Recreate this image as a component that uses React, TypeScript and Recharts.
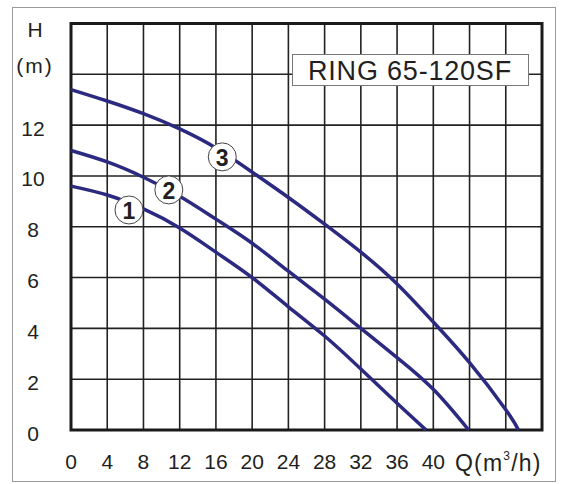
import {
  ComposedChart,
  Line,
  XAxis,
  YAxis,
  CartesianGrid,
  ReferenceArea,
  ReferenceDot,
} from 'recharts';

// Pump curves: flow Q (m³/h) against head H (m)
const flowQ1 = [0, 4, 8, 12, 16, 20, 24, 28, 32, 36, 39.2];
const head1 = [9.6, 9.25, 8.7, 7.95, 7.0, 6.0, 4.85, 3.7, 2.4, 1.05, 0];

const flowQ2 = [0, 4, 8, 12, 16, 20, 24, 28, 32, 36, 40, 43.9];
const head2 = [11.0, 10.55, 9.95, 9.2, 8.3, 7.35, 6.25, 5.15, 4.0, 2.85, 1.6, 0];

const flowQ3 = [0, 4, 8, 12, 16, 20, 24, 28, 32, 36, 40, 44, 48, 49.4];
const head3 = [13.4, 12.95, 12.45, 11.85, 11.1, 10.15, 9.15, 8.1, 7.0, 5.75, 4.25, 2.65, 0.8, 0];

// circled curve numbers, placed in data units
const markerNames = ['1', '2', '3'];
const markerQ = [6.4, 10.8, 16.7];
const markerH = [8.66, 9.45, 10.75];

const xTicks = [0, 4, 8, 12, 16, 20, 24, 28, 32, 36, 40, 44, 48, 52];
const xLabelMax = 40;
const yTicks = [0, 2, 4, 6, 8, 10, 12, 14, 16];
const yLabelMax = 12;

const title = 'RING 65-120SF';

const toPoints = (qs: number[], hs: number[]) => qs.map((q, i) => ({ q, h: hs[i] }));
const curves = [toPoints(flowQ1, head1), toPoints(flowQ2, head2), toPoints(flowQ3, head3)];

const INK = '#231f20';
const CURVE = '#2b2a80';
const FONT = '"Liberation Sans", Arial, sans-serif';

const XTick = ({ x, y, payload }: any) => {
  if (payload.value > xLabelMax) return <g />;
  return (
    <text x={x} y={y} textAnchor="middle" dominantBaseline="central" fontSize={21} fill={INK} fontFamily={FONT}>
      {payload.value}
    </text>
  );
};

const YTick = ({ x, y, payload }: any) => {
  if (payload.value > yLabelMax) return <g />;
  return (
    <text x={x} y={y} dy={3} textAnchor="middle" dominantBaseline="central" fontSize={21} fill={INK} fontFamily={FONT}>
      {payload.value}
    </text>
  );
};

const marker = (name: string) => (props: any) => (
  <g>
    <circle cx={props.cx} cy={props.cy} r={14} fill="#fff" stroke="#444" strokeWidth={1} />
    <text
      x={props.cx}
      y={props.cy}
      dy={1}
      textAnchor="middle"
      dominantBaseline="central"
      fontSize={23}
      fontWeight="bold"
      fill={INK}
      fontFamily={FONT}
    >
      {name}
    </text>
  </g>
);

export default function App() {
  return (
    <div style={{ position: 'absolute', left: 0, top: 0, width: 564, height: 484, background: '#fff' }}>
      <ComposedChart width={564} height={484} margin={{ top: 23.5, right: 22, bottom: 14, left: 21 }}>
        <CartesianGrid stroke="#222" strokeWidth={1.6} />
        <XAxis
          type="number"
          dataKey="q"
          domain={[0, 52]}
          ticks={xTicks}
          interval={0}
          height={40}
          axisLine={false}
          tickLine={false}
          tickSize={0}
          tickMargin={31}
          tick={<XTick />}
        />
        <YAxis
          type="number"
          dataKey="h"
          domain={[0, 16]}
          ticks={yTicks}
          interval={0}
          width={50}
          axisLine={false}
          tickLine={false}
          tickSize={0}
          tickMargin={38}
          tick={<YTick />}
        />
        <ReferenceArea x1={0} x2={52} y1={0} y2={16} fill="none" stroke="#1a1a1a" strokeWidth={3} />
        {curves.map((pts, i) => (
          <Line
            key={i}
            data={pts}
            dataKey="h"
            type="natural"
            stroke={CURVE}
            strokeWidth={3.5}
            dot={false}
            activeDot={false}
            isAnimationActive={false}
          />
        ))}
        {markerNames.map((name, i) => (
          <ReferenceDot key={name} x={markerQ[i]} y={markerH[i]} r={14} shape={marker(name)} />
        ))}
      </ComposedChart>
      <svg
        width={564}
        height={484}
        style={{ position: 'absolute', left: 0, top: 0, pointerEvents: 'none' }}
        fontFamily={FONT}
        fill={INK}
      >
        <rect x={12.5} y={7.5} width={543} height={474} fill="none" stroke="#999" strokeWidth={1} />
        <text x={35} y={37} textAnchor="middle" fontSize={21}>H</text>
        <text x={35} y={73} textAnchor="middle" fontSize={21} letterSpacing={2}>(m)</text>
        <rect x={292.5} y={54.5} width={236} height={31} fill="#fff" stroke="#777" strokeWidth={1} />
        <text x={410} y={80} textAnchor="middle" fontSize={27} letterSpacing={0.8}>{title}</text>
        <text x={455} y={471} fontSize={23} letterSpacing={1.2}>
          Q(m<tspan fontSize={12} dy={-11}>3</tspan>
          <tspan dy={11}>/h)</tspan>
        </text>
      </svg>
    </div>
  );
}
